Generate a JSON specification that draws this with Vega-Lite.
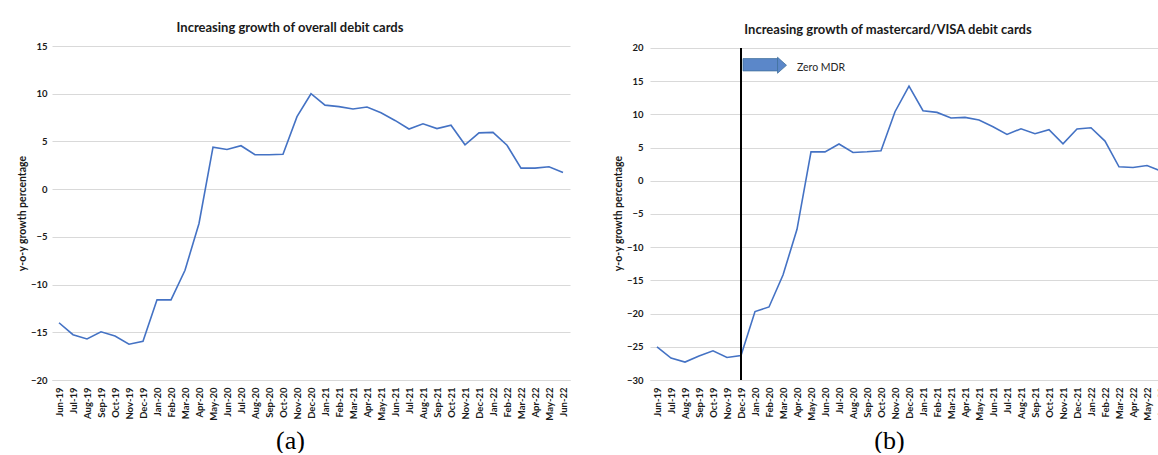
{
  "$schema": "https://vega.github.io/schema/vega-lite/v6.json",
  "padding": {"left": 17, "top": 22, "right": 0, "bottom": 0},
  "background": "white",
  "spacing": 43,
  "config": {
    "font": "Lato",
    "view": {"stroke": null},
    "title": {"font": "Lato", "fontSize": 13, "fontWeight": "bold", "color": "#1a1a1a", "anchor": "middle", "dx": -21, "offset": 6},
    "axis": {"labelFont": "Lato", "labelColor": "#1a1a1a", "labelFontWeight": "bold", "labelFontSize": 9.5, "titleColor": "#1a1a1a", "ticks": false, "labelOverlap": false},
    "axisY": {"grid": true, "gridColor": "#d9d9d9", "gridWidth": 1, "domain": false, "titleFontSize": 10.5, "titleFontWeight": "bold", "titlePadding": 3},
    "axisX": {"grid": false, "domain": true, "domainColor": "#d9d9d9", "domainWidth": 1, "labelAngle": -90, "labelPadding": 7, "titleFont": "Liberation Serif", "titleFontSize": 26, "titleFontWeight": "normal", "titleColor": "#000000", "titleBaseline": "top", "titleY": 47}
  },
  "datasets": {
    "overall": [
      {"month": "Jun-19", "value": -14.0}, {"month": "Jul-19", "value": -15.25}, {"month": "Aug-19", "value": -15.7},
      {"month": "Sep-19", "value": -14.95}, {"month": "Oct-19", "value": -15.4}, {"month": "Nov-19", "value": -16.25},
      {"month": "Dec-19", "value": -15.95}, {"month": "Jan-20", "value": -11.6}, {"month": "Feb-20", "value": -11.6},
      {"month": "Mar-20", "value": -8.5}, {"month": "Apr-20", "value": -3.6}, {"month": "May-20", "value": 4.4},
      {"month": "Jun-20", "value": 4.15}, {"month": "Jul-20", "value": 4.55}, {"month": "Aug-20", "value": 3.6},
      {"month": "Sep-20", "value": 3.6}, {"month": "Oct-20", "value": 3.65}, {"month": "Nov-20", "value": 7.6},
      {"month": "Dec-20", "value": 10.0}, {"month": "Jan-21", "value": 8.8}, {"month": "Feb-21", "value": 8.65},
      {"month": "Mar-21", "value": 8.4}, {"month": "Apr-21", "value": 8.6}, {"month": "May-21", "value": 8.0},
      {"month": "Jun-21", "value": 7.2}, {"month": "Jul-21", "value": 6.3}, {"month": "Aug-21", "value": 6.85},
      {"month": "Sep-21", "value": 6.35}, {"month": "Oct-21", "value": 6.7}, {"month": "Nov-21", "value": 4.65},
      {"month": "Dec-21", "value": 5.9}, {"month": "Jan-22", "value": 5.95}, {"month": "Feb-22", "value": 4.6},
      {"month": "Mar-22", "value": 2.2}, {"month": "Apr-22", "value": 2.2}, {"month": "May-22", "value": 2.35},
      {"month": "Jun-22", "value": 1.75}
    ],
    "mv": [
      {"month": "Jun-19", "value": -25.0}, {"month": "Jul-19", "value": -26.7}, {"month": "Aug-19", "value": -27.3},
      {"month": "Sep-19", "value": -26.4}, {"month": "Oct-19", "value": -25.6}, {"month": "Nov-19", "value": -26.6},
      {"month": "Dec-19", "value": -26.3}, {"month": "Jan-20", "value": -19.7}, {"month": "Feb-20", "value": -19.0},
      {"month": "Mar-20", "value": -14.2}, {"month": "Apr-20", "value": -7.3}, {"month": "May-20", "value": 4.37},
      {"month": "Jun-20", "value": 4.35}, {"month": "Jul-20", "value": 5.55}, {"month": "Aug-20", "value": 4.27},
      {"month": "Sep-20", "value": 4.37}, {"month": "Oct-20", "value": 4.52}, {"month": "Nov-20", "value": 10.4},
      {"month": "Dec-20", "value": 14.27}, {"month": "Jan-21", "value": 10.55}, {"month": "Feb-21", "value": 10.3},
      {"month": "Mar-21", "value": 9.45}, {"month": "Apr-21", "value": 9.55}, {"month": "May-21", "value": 9.15},
      {"month": "Jun-21", "value": 8.14}, {"month": "Jul-21", "value": 6.98}, {"month": "Aug-21", "value": 7.84},
      {"month": "Sep-21", "value": 7.09}, {"month": "Oct-21", "value": 7.69}, {"month": "Nov-21", "value": 5.58},
      {"month": "Dec-21", "value": 7.79}, {"month": "Jan-22", "value": 7.99}, {"month": "Feb-22", "value": 5.98},
      {"month": "Mar-22", "value": 2.11}, {"month": "Apr-22", "value": 2.01}, {"month": "May-22", "value": 2.31},
      {"month": "Jun-22", "value": 1.46}
    ]
  },
  "hconcat": [
    {
      "width": 518,
      "height": 334,
      "title": "Increasing growth of overall debit cards",
      "data": {"name": "overall"},
      "mark": {"type": "line", "color": "#4472C4", "strokeWidth": 1.6},
      "encoding": {
        "x": {"field": "month", "type": "ordinal", "sort": null,
              "scale": {"type": "point", "padding": 0.5},
              "axis": {"title": "(a)", "titleX": 238}},
        "y": {"field": "value", "type": "quantitative",
              "scale": {"domain": [-20, 15], "nice": false, "zero": false},
              "axis": {"values": [-20, -15, -10, -5, 0, 5, 10, 15], "title": "y-o-y growth percentage", "labelPadding": 5}}
      }
    },
    {
      "width": 518,
      "height": 334,
      "title": "Increasing growth of mastercard/VISA debit cards",
      "encoding": {
        "x": {"field": "month", "type": "ordinal", "sort": null,
              "scale": {"type": "point", "padding": 0.5,
                        "domain": ["Jun-19", "Jul-19", "Aug-19", "Sep-19", "Oct-19", "Nov-19", "Dec-19", "Jan-20", "Feb-20", "Mar-20", "Apr-20", "May-20", "Jun-20", "Jul-20", "Aug-20", "Sep-20", "Oct-20", "Nov-20", "Dec-20", "Jan-21", "Feb-21", "Mar-21", "Apr-21", "May-21", "Jun-21", "Jul-21", "Aug-21", "Sep-21", "Oct-21", "Nov-21", "Dec-21", "Jan-22", "Feb-22", "Mar-22", "Apr-22", "May-22", "Jun-22"]},
              "axis": {"title": "(b)", "titleX": 239}},
        "y": {"field": "value", "type": "quantitative",
              "scale": {"domain": [-30, 20.3], "nice": false, "zero": false},
              "axis": {"values": [-30, -25, -20, -15, -10, -5, 0, 5, 10, 15, 20], "title": "y-o-y growth percentage", "labelPadding": 7}}
      },
      "layer": [
        {
          "data": {"name": "mv"},
          "mark": {"type": "line", "color": "#4472C4", "strokeWidth": 1.6}
        },
        {
          "data": {"values": [{"month": "Dec-19", "value": 20, "value2": -30}]},
          "mark": {"type": "rule", "color": "#000000", "strokeWidth": 2},
          "encoding": {"y2": {"field": "value2"}}
        },
        {
          "data": {"values": [{"month": "Dec-19", "month2": "Feb-20", "value": 18.4, "value2": 16.55}]},
          "mark": {"type": "rect", "color": "#5B87C9", "stroke": "#41719C", "strokeWidth": 0.8, "xOffset": 2, "x2Offset": 9},
          "encoding": {"x2": {"field": "month2"}, "y2": {"field": "value2"}}
        },
        {
          "data": {"values": [{"month": "Mar-20", "value": 17.4}]},
          "mark": {"type": "point", "shape": "M-0.56,-1L0.56,0L-0.56,1Z", "size": 256, "filled": true, "color": "#5B87C9", "stroke": "#41719C", "strokeWidth": 0.8, "opacity": 1, "xOffset": -1}
        },
        {
          "data": {"values": [{"month": "Apr-20", "value": 17.0, "label": "Zero MDR"}]},
          "mark": {"type": "text", "align": "left", "baseline": "middle", "font": "Lato", "fontSize": 10.5, "color": "#262626"},
          "encoding": {"text": {"field": "label"}}
        }
      ]
    }
  ]
}
